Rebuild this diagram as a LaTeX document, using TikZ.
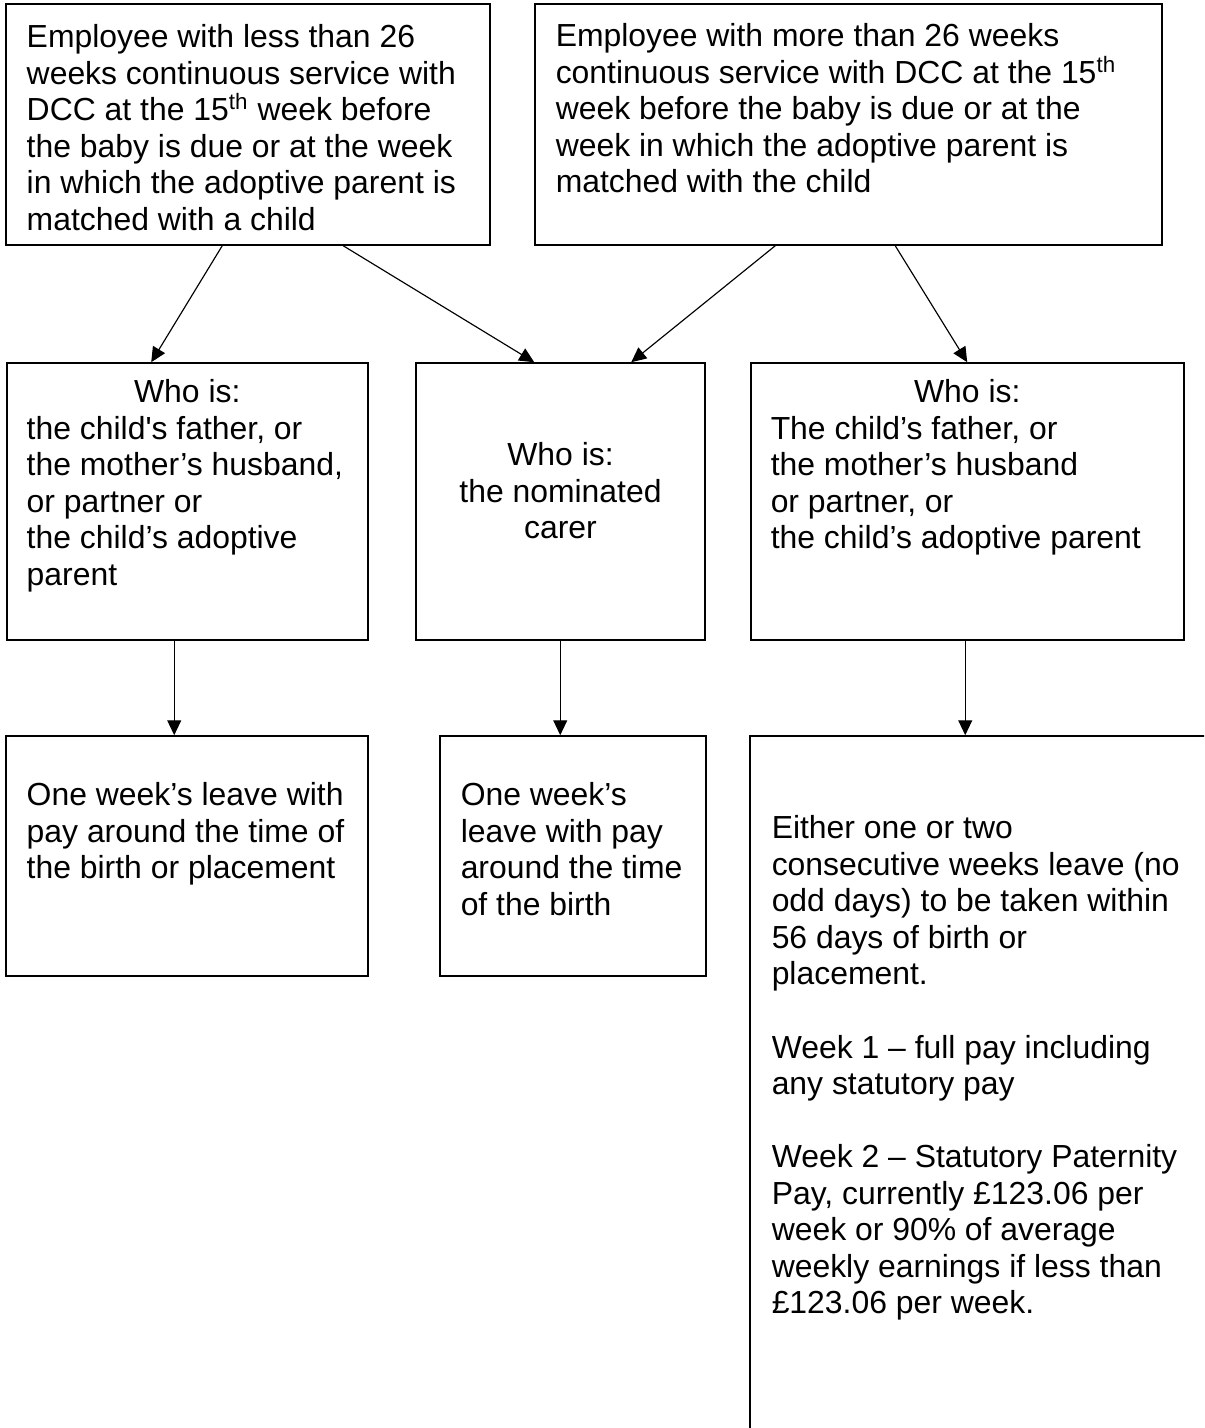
\documentclass[tikz,border=0pt]{standalone}
\usepackage{fontspec}
\setmainfont{Liberation Sans}
\usepackage{tikz}
\usetikzlibrary{arrows.meta,positioning,fit}

\begin{document}
\begin{tikzpicture}[x=0.3887pt,y=-0.3887pt,
  boxnode/.style={draw,line width=0.6pt,inner sep=0pt},
  boxtext/.style={inner sep=0pt,anchor=north west,align=left,font=\fontsize{12.4pt}{14.2pt}\selectfont},
  arr/.style={-{Triangle[length=5.8pt,width=5.4pt]},line width=0.45pt}]
  \useasboundingbox (0,0) rectangle (1204,1428);
  \clip (0,0) rectangle (1204,1428);
  % top row: length of service
  \node[boxnode,fit={(6,4) (490,245)}] (lessbox) {};
  \node[boxnode,fit={(535,4) (1162,245)}] (morebox) {};
  \node[boxtext] (lesstxt) at ([shift={(21,21)}]lessbox.north west)
    {Employee with less than 26\\weeks continuous service with\\DCC at the 15\textsuperscript{th} week before\\the baby is due or at the week\\in which the adoptive parent is\\matched with a child};
  \node[boxtext] (moretxt) at ([shift={(21,20)}]morebox.north west)
    {Employee with more than 26 weeks\\continuous service with DCC at the 15\textsuperscript{th}\\week before the baby is due or at the\\week in which the adoptive parent is\\matched with the child};
  % middle row: who is
  \node[boxnode,fit={(7,363) (368,640)}] (fatherbox) {};
  \node[boxnode,fit={(416,363) (705,640)}] (carerbox) {};
  \node[boxnode,fit={(751,363) (1184,640)}] (parentbox) {};
  \node[boxtext] (fathertxt) at ([shift={(20,17)}]fatherbox.north west)
    {\makebox[124.8pt]{Who is:}\\the child\textquotesingle s father, or\\the mother’s husband,\\or partner or\\the child’s adoptive\\parent};
  \node[boxtext,anchor=north,align=center] (carertxt) at ([shift={(0,80)}]carerbox.north)
    {Who is:\\the nominated\\carer};
  \node[boxtext] (parenttxt) at ([shift={(20,17)}]parentbox.north west)
    {\makebox[152.8pt]{Who is:}\\The child’s father, or\\the mother’s husband\\or partner, or\\the child’s adoptive parent};
  % bottom row: leave and pay
  \node[boxnode,fit={(6,736) (368,976)}] (weekbox) {};
  \node[boxnode,fit={(440,736) (706,976)}] (carerweekbox) {};
  \node[boxnode,fit={(750,736) (1240,1470)}] (paybox) {};
  \node[boxtext] (weektxt) at ([shift={(21,47)}]weekbox.north west)
    {One week’s leave with\\pay around the time of\\the birth or placement};
  \node[boxtext] (carerweektxt) at ([shift={(21,47)}]carerweekbox.north west)
    {One week’s\\leave with pay\\around the time\\of the birth};
  \node[boxtext] (paytxt) at ([shift={(22,80)}]paybox.north west)
    {Either one or two\\consecutive weeks leave (no\\odd days) to be taken within\\56 days of birth or\\placement.\\[14.2pt]Week 1 – full pay including\\any statutory pay\\[14.2pt]Week 2 – Statutory Paternity\\Pay, currently £123.06 per\\week or 90\% of average\\weekly earnings if less than\\£123.06 per week.};
  % connectors
  \draw[arr] ([shift={(217,0)}]lessbox.south west) -- ([shift={(145,0)}]fatherbox.north west);
  \draw[arr] ([shift={(338,0)}]lessbox.south west) -- ([shift={(119,0)}]carerbox.north west);
  \draw[arr] ([shift={(241,0)}]morebox.south west) -- ([shift={(216,0)}]carerbox.north west);
  \draw[arr] ([shift={(361,0)}]morebox.south west) -- ([shift={(217,0)}]parentbox.north west);
  \draw[arr] ([shift={(168,0)}]fatherbox.south west) -- ([shift={(169,0)}]weekbox.north west);
  \draw[arr] ([shift={(145,0)}]carerbox.south west) -- ([shift={(121,0)}]carerweekbox.north west);
  \draw[arr] ([shift={(215,0)}]parentbox.south west) -- ([shift={(216,0)}]paybox.north west);
\end{tikzpicture}
\end{document}
